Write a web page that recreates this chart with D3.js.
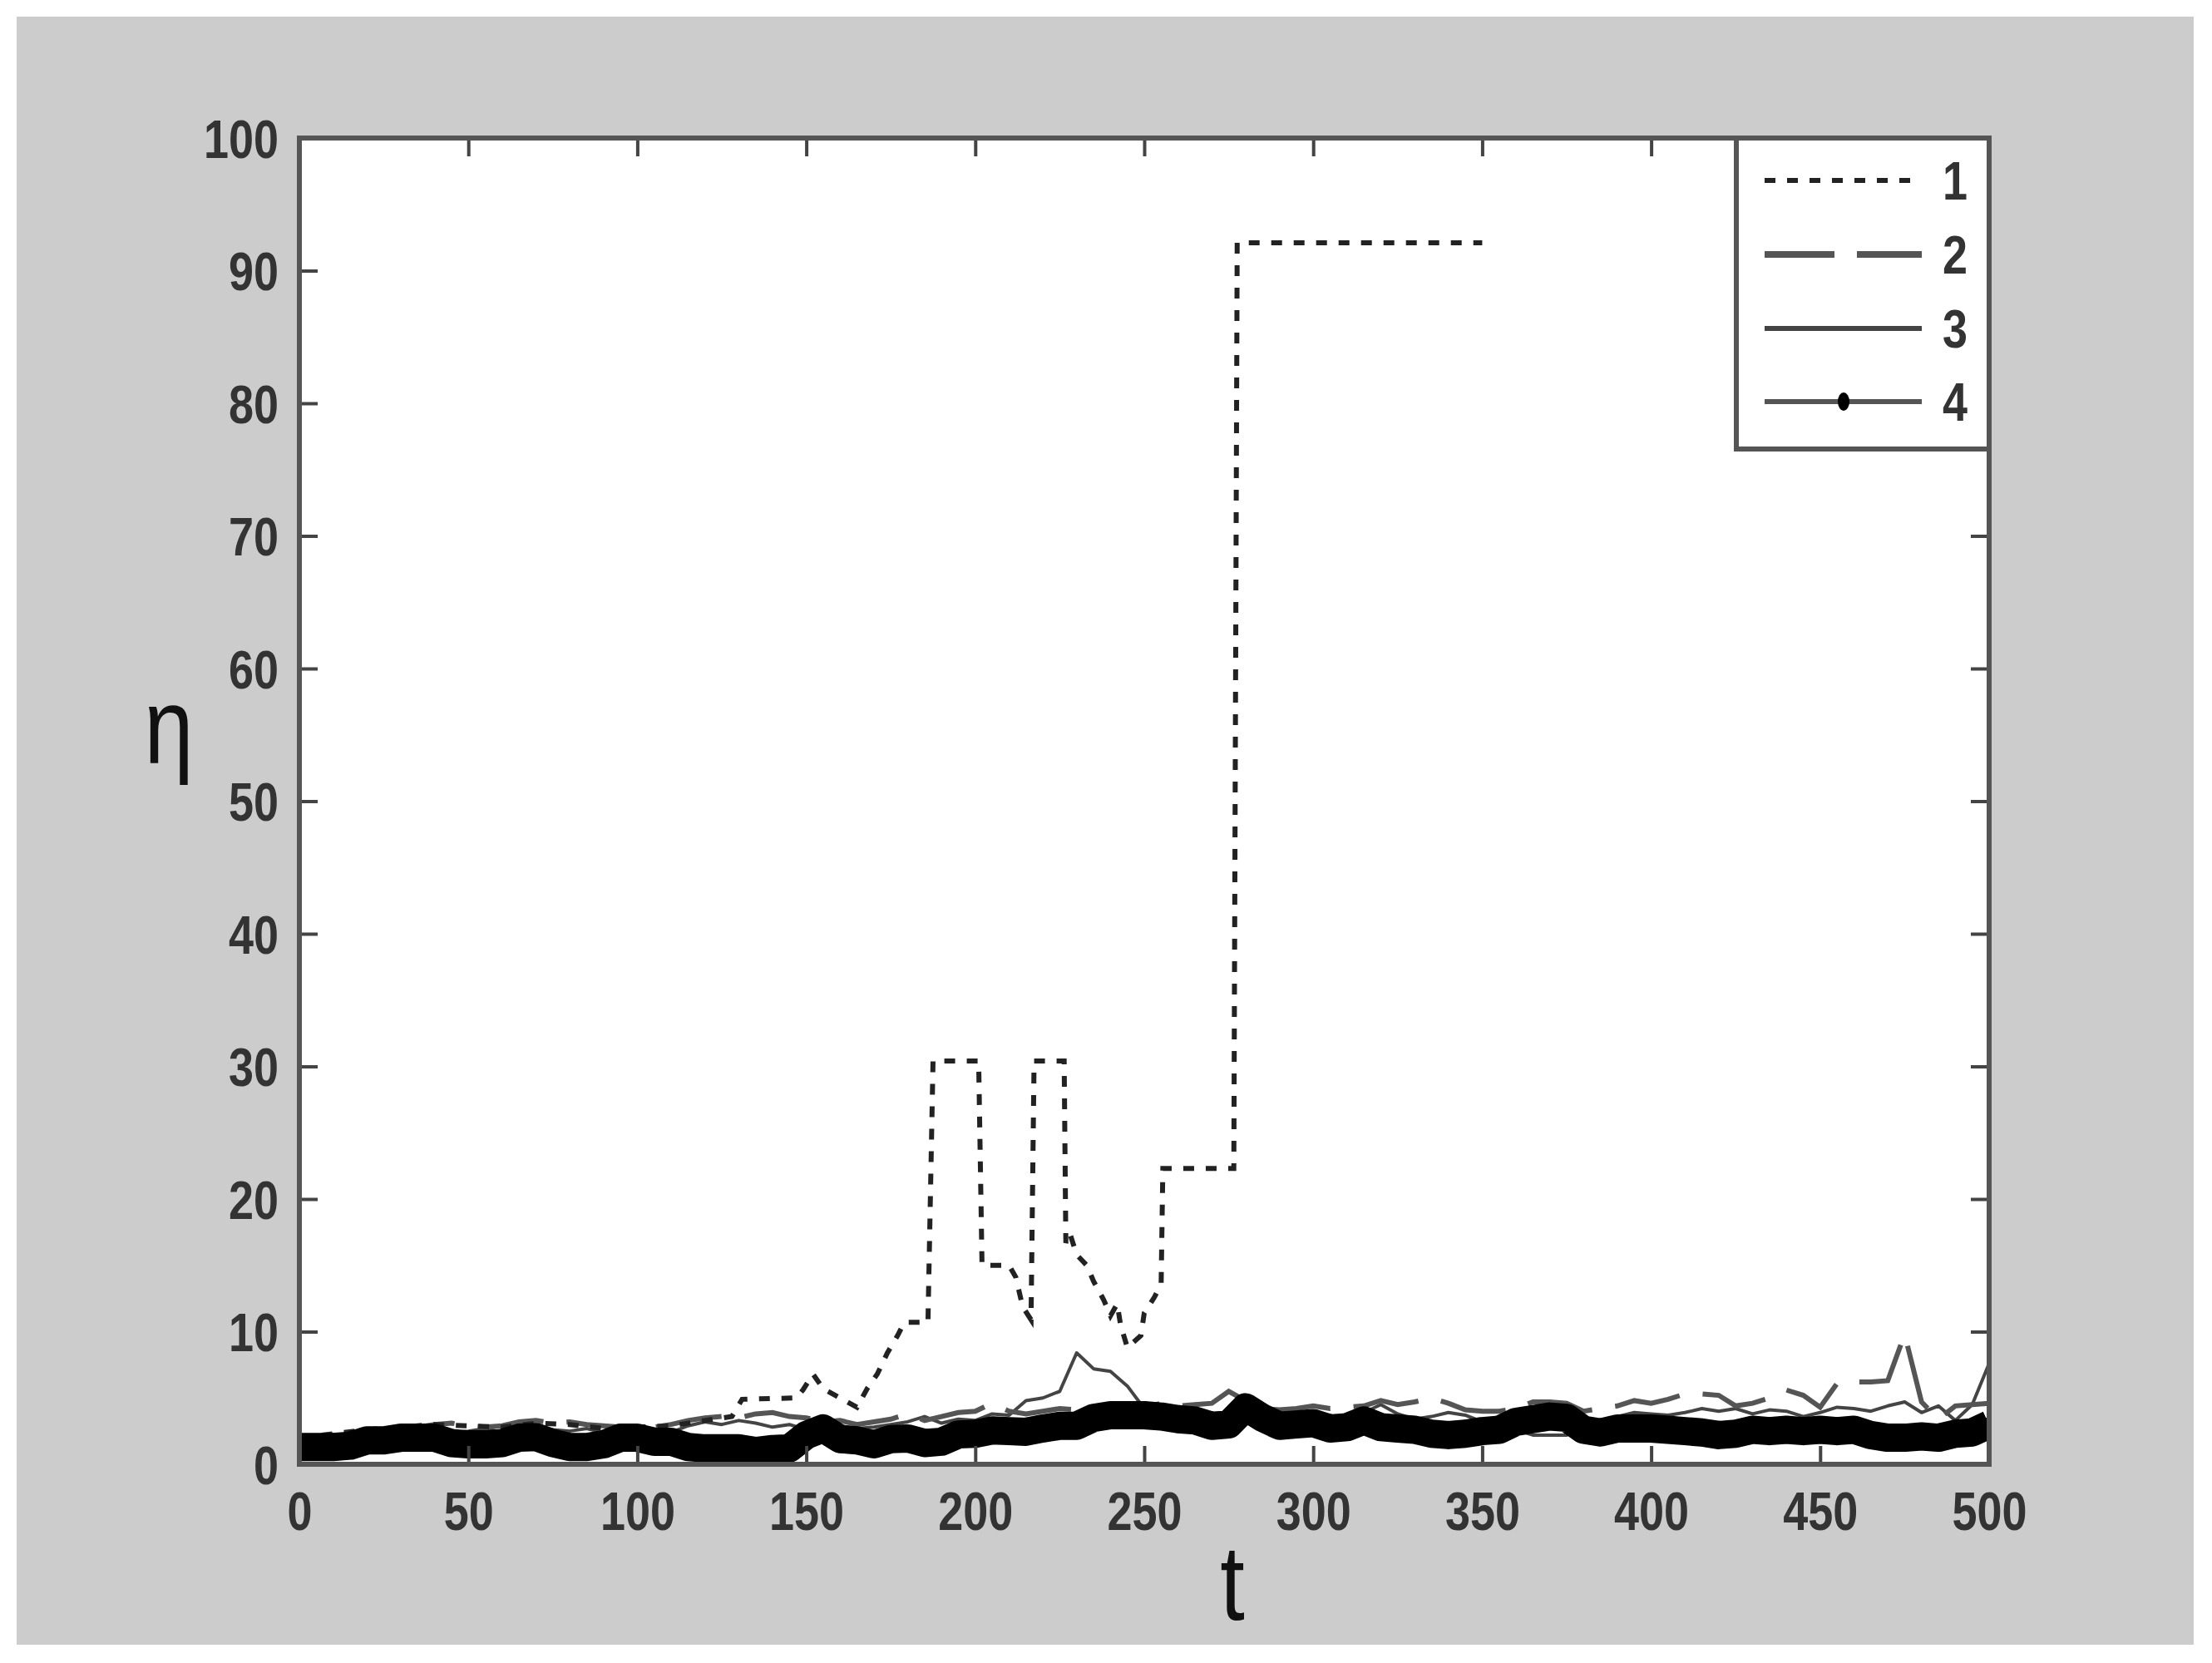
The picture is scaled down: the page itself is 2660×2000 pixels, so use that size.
<!DOCTYPE html>
<html>
<head>
<meta charset="utf-8">
<title>eta vs t</title>
<style>
body{ margin:0; background:#ffffff; }
svg{ display:block; }
.tick text{
    font-family: "Liberation Sans Narrow", "Liberation Sans", Arial, sans-serif;
    font-weight: bold;
    font-size: 65px;
    fill: #333333;
}
.tick line{ stroke:#444444; stroke-width:4; }
.domain{ display:none; }
.axlabel{
    font-family: "Liberation Sans", Arial, sans-serif;
    font-size: 128px;
    fill: #111111;
}
.leglabel{
    font-family: "Liberation Sans Narrow", "Liberation Sans", Arial, sans-serif;
    font-weight: bold;
    font-size: 65px;
    fill: #333333;
}
</style>
</head>
<body>
<svg id="chart"></svg>
<script src="https://d3js.org/d3.v7.min.js"></script>
<script>
// axis ticks
var xTicks = [0, 50, 100, 150, 200, 250, 300, 350, 400, 450, 500];
var yTicks = [0, 10, 20, 30, 40, 50, 60, 70, 80, 90, 100];
var seriesNames = ["1", "2", "3", "4"];

// series 1 (dotted) read as [t, eta] pairs
var s1 = [[0,2.0],[10,2.3],[20,2.6],[30,2.8],[40,3.0],[50,2.9],[60,2.8],[70,3.1],[80,3.0],
    [90,2.7],[100,2.8],[110,2.9],[120,3.3],[128,3.6],[131,4.9],[147,5.0],[149,5.6],[152,6.8],
    [155,5.7],[160,5.0],[165,4.3],[168,5.7],[171,6.8],[174,8.4],[177,9.7],[179,10.7],[186,10.7],
    [187.5,30.4],[201,30.4],[202,15.0],[210,15.0],[212,14.1],[214,11.9],[216.5,10.9],[217.4,30.4],
    [226.3,30.4],[226.8,16.7],[228,17.4],[230,15.8],[233,15.0],[235,13.8],[238,12.4],[240,11.2],
    [242,12.1],[243,10.5],[245,8.8],[249,9.7],[250,11.4],[253,12.6],[255,13.6],[255.5,22.3],
    [276.5,22.3],[277.5,92.1],[350,92.1]];

// series 2-4 sampled every 5 units of t, 0..500
var s2 = [1.8,2.0,2.2,2.2,2.4,2.5,2.6,2.8,3.0,3.1,2.9,2.8,2.9,3.2,3.3,3.1,3.2,3.0,2.9,2.8,
    2.7,2.8,3.0,3.3,3.5,3.6,3.5,3.8,3.9,3.6,3.5,3.2,3.3,3.0,3.2,3.4,3.8,3.3,3.6,3.9,
    4.0,4.6,4.0,3.8,4.0,4.2,4.1,4.3,4.2,4.5,4.3,4.6,4.4,4.5,4.6,5.5,4.8,4.2,4.1,4.2,
    4.4,4.2,4.3,4.4,4.8,4.5,4.7,5.0,4.6,4.1,4.0,4.0,4.2,4.7,4.7,4.6,4.0,4.2,4.4,4.8,
    4.6,4.9,5.3,5.3,5.2,4.4,4.6,5.0,5.6,5.2,4.3,6.1,6.2,6.2,6.3,9.8,4.7,3.4,4.4,4.5,4.6];
var s3 = [1.5,1.7,1.9,2.0,2.2,2.3,2.2,2.5,2.6,2.4,2.5,2.7,2.4,2.6,2.8,2.6,2.5,2.7,2.4,2.3,
    2.5,2.6,2.4,2.9,3.2,3.0,3.3,3.1,2.8,3.0,2.6,3.1,2.9,2.7,2.8,3.0,3.2,3.6,3.1,3.4,
    3.3,3.8,3.7,4.8,5.0,5.5,8.4,7.2,7.0,5.9,4.2,4.5,3.8,3.6,3.4,3.9,3.5,3.0,3.3,3.4,
    3.0,3.2,3.6,3.9,4.5,3.8,3.4,3.6,3.9,3.7,3.2,3.0,2.6,2.2,2.2,2.2,2.9,3.3,3.6,3.9,
    3.8,3.7,3.9,4.2,4.0,4.2,3.8,4.1,4.0,3.6,3.9,4.3,4.2,4.0,4.4,4.7,3.9,4.4,3.3,4.5,7.6];
var s4 = [1.3,1.3,1.3,1.4,1.8,1.8,2.0,2.0,2.0,1.6,1.5,1.5,1.6,2.0,2.05,1.6,1.3,1.3,1.5,2.0,
    2.0,1.7,1.7,1.3,1.2,1.2,1.2,1.0,1.15,1.2,2.2,2.7,1.9,1.8,1.5,1.9,1.95,1.6,1.7,2.25,
    2.3,2.55,2.5,2.45,2.7,2.9,2.9,3.5,3.7,3.7,3.7,3.6,3.4,3.3,2.9,3.0,4.3,3.5,2.9,3.0,
    3.1,2.7,2.8,3.3,2.8,2.7,2.6,2.3,2.2,2.3,2.5,2.6,3.2,3.4,3.6,3.5,2.6,2.4,2.7,2.7,
    2.7,2.6,2.5,2.4,2.2,2.3,2.6,2.5,2.6,2.5,2.6,2.5,2.6,2.2,2.0,2.0,2.1,2.0,2.3,2.4,3.0];

var W = 2660, H = 2000;
var pLeft = 360, pRight = 2392, pTop = 166, pBottom = 1761;
var squeeze = 0.83;   // the source text is horizontally condensed

var svg = d3.select("#chart")
    .attr("width", W)
    .attr("height", H);

svg.append("rect")
    .attr("x", 20).attr("y", 20)
    .attr("width", 2618).attr("height", 1958)
    .attr("fill", "#cccccc");

var x = d3.scaleLinear().domain([0, 500]).range([pLeft, pRight]);
var y = d3.scaleLinear().domain([0, 100]).range([pBottom, pTop]);

svg.append("rect")
    .attr("x", pLeft).attr("y", pTop)
    .attr("width", pRight - pLeft).attr("height", pBottom - pTop)
    .attr("fill", "#ffffff");

svg.append("clipPath").attr("id", "clip")
    .append("rect")
    .attr("x", pLeft).attr("y", pTop)
    .attr("width", pRight - pLeft).attr("height", pBottom - pTop);

var tGrid = d3.range(0, 501, 5);
function pairs(vals){ return vals.map(function(v, i){ return [tGrid[i], v]; }); }

var line = d3.line()
    .x(function(d){ return x(d[0]); })
    .y(function(d){ return y(d[1]); });

var plot = svg.append("g").attr("clip-path", "url(#clip)");

plot.append("path").datum(pairs(s3))
    .attr("d", line).attr("fill", "none")
    .attr("stroke", "#444444").attr("stroke-width", 4)
    .attr("stroke-linejoin", "round");

plot.append("path").datum(pairs(s2))
    .attr("d", line).attr("fill", "none")
    .attr("stroke", "#555555").attr("stroke-width", 6)
    .attr("stroke-dasharray", "80,28");

plot.append("path").datum(s1)
    .attr("d", line).attr("fill", "none")
    .attr("stroke", "#222222").attr("stroke-width", 6)
    .attr("stroke-dasharray", "13,14");

plot.append("path").datum(pairs(s4))
    .attr("d", line).attr("fill", "none")
    .attr("stroke", "#000000").attr("stroke-width", 34)
    .attr("stroke-linejoin", "round");

plot.selectAll("circle.m4")
    .data(pairs(s4))
    .enter().append("circle")
    .attr("class", "m4")
    .attr("cx", function(d){ return x(d[0]); })
    .attr("cy", function(d){ return y(d[1]); })
    .attr("r", 9)
    .attr("fill", "#000000");

// axes, ticks pointing inward on all four sides
var xAxis = svg.append("g")
    .attr("transform", "translate(0," + pBottom + ")")
    .call(d3.axisBottom(x).tickValues(xTicks).tickSizeInner(-22).tickSizeOuter(0).tickPadding(33));
xAxis.selectAll(".tick text")
    .attr("transform", "scale(" + squeeze + ",1)");

svg.append("g")
    .attr("transform", "translate(0," + pTop + ")")
    .call(d3.axisTop(x).tickValues(xTicks).tickSizeInner(-22).tickSizeOuter(0).tickFormat(""));

var yAxis = svg.append("g")
    .attr("transform", "translate(" + pLeft + ",0)")
    .call(d3.axisLeft(y).tickValues(yTicks).tickSizeInner(-22).tickSizeOuter(0).tickPadding(25));
yAxis.selectAll(".tick text")
    .attr("x", -25 / squeeze)
    .attr("dy", "0.36em")
    .attr("transform", "scale(" + squeeze + ",1)");

svg.append("g")
    .attr("transform", "translate(" + pRight + ",0)")
    .call(d3.axisRight(y).tickValues(yTicks).tickSizeInner(-22).tickSizeOuter(0).tickFormat(""));

svg.append("rect")
    .attr("x", pLeft).attr("y", pTop)
    .attr("width", pRight - pLeft).attr("height", pBottom - pTop)
    .attr("fill", "none")
    .attr("stroke", "#555555").attr("stroke-width", 6);

svg.append("text")
    .attr("class", "axlabel")
    .attr("transform", "translate(1482,1948) scale(" + squeeze + ",1)")
    .attr("text-anchor", "middle")
    .text("t");
svg.append("text")
    .attr("class", "axlabel")
    .attr("transform", "translate(203,917) scale(" + squeeze + ",1)")
    .attr("text-anchor", "middle")
    .text("η");

// legend
var leg = svg.append("g");
leg.append("rect")
    .attr("x", 2088).attr("y", pTop)
    .attr("width", pRight - 2088).attr("height", 540 - pTop)
    .attr("fill", "#ffffff")
    .attr("stroke", "#555555").attr("stroke-width", 6);

var legY = [217, 306, 395, 483];
var legDash = ["13,14", "84,27", null, null];
var legWidth = [6, 8, 6, 6];
var legColor = ["#222222", "#555555", "#444444", "#555555"];

seriesNames.forEach(function(name, i){
    var ln = leg.append("line")
        .attr("x1", 2122).attr("x2", 2311)
        .attr("y1", legY[i]).attr("y2", legY[i])
        .attr("stroke", legColor[i])
        .attr("stroke-width", legWidth[i]);
    if (legDash[i]) ln.attr("stroke-dasharray", legDash[i]);
    leg.append("text")
        .attr("class", "leglabel")
        .attr("transform", "translate(2336," + (legY[i] + 23) + ") scale(" + squeeze + ",1)")
        .text(name);
});
leg.append("ellipse")
    .attr("cx", 2217).attr("cy", legY[3])
    .attr("rx", 7).attr("ry", 11)
    .attr("fill", "#000000");
</script>
</body>
</html>
